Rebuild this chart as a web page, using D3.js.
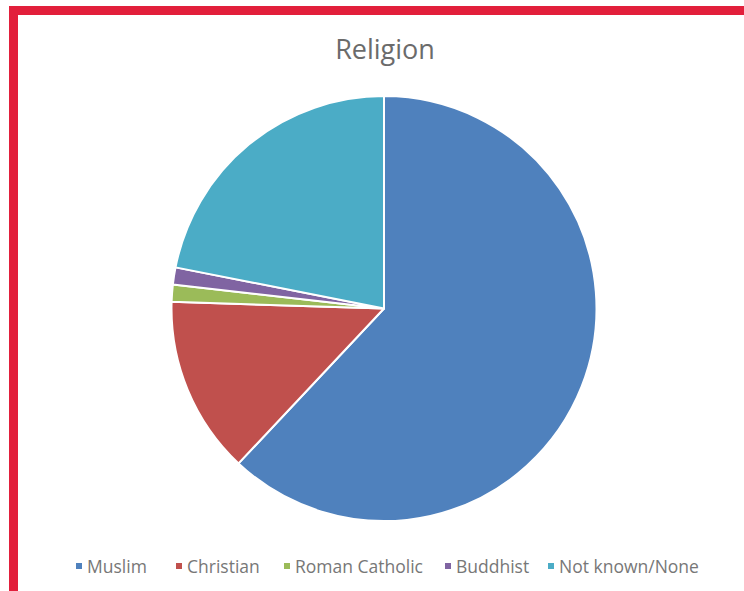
<!DOCTYPE html>
<html><head><meta charset="utf-8">
<script src="https://cdn.jsdelivr.net/npm/d3@7"></script>
<style>html,body{margin:0;padding:0;background:#fff;}</style>
</head><body>
<svg id="c" width="744" height="591"></svg>
<script>
const categories = ["Muslim","Christian","Roman Catholic","Buddhist","Not known/None"];
const values = [62.0, 13.5, 1.3, 1.3, 21.9];
const colors = ["#4F81BD","#C0504D","#9BBB59","#8064A2","#4BACC6"];
const title = "Religion";

const svg = d3.select("#c");
svg.append("rect").attr("x",9).attr("y",6).attr("width",735).attr("height",9).attr("fill","#E21F3B");
svg.append("rect").attr("x",9).attr("y",6).attr("width",9).attr("height",585).attr("fill","#E21F3B");

svg.append("text").attr("x",385).attr("y",59).attr("text-anchor","middle")
  .attr("font-family","'Open Sans', sans-serif").attr("font-size",27).attr("fill","#6b6b6b")
  .text(title);

const cx = 384, cy = 308.5, r = 212.5;
const pie = d3.pie().sort(null).value(d=>d);
const arc = d3.arc().innerRadius(0).outerRadius(r);
const color = d3.scaleOrdinal().domain(categories).range(colors);
const g = svg.append("g").attr("transform",`translate(${cx},${cy})`);
g.selectAll("path").data(pie(values)).join("path")
  .attr("d",arc).attr("fill",(d,i)=>color(categories[i]))
  .attr("stroke","#fff").attr("stroke-width",2).attr("stroke-linejoin","round");

const legX = [76, 176, 284, 445, 548];
const lg = svg.append("g");
categories.forEach((c,i)=>{
  lg.append("rect").attr("x",legX[i]).attr("y",563).attr("width",6).attr("height",6).attr("fill",color(c));
  lg.append("text").attr("x",legX[i]+11).attr("y",572.5)
    .attr("font-family","'Open Sans', sans-serif").attr("font-size",17.5).attr("fill","#777")
    .text(c);
});
</script>
</body></html>
